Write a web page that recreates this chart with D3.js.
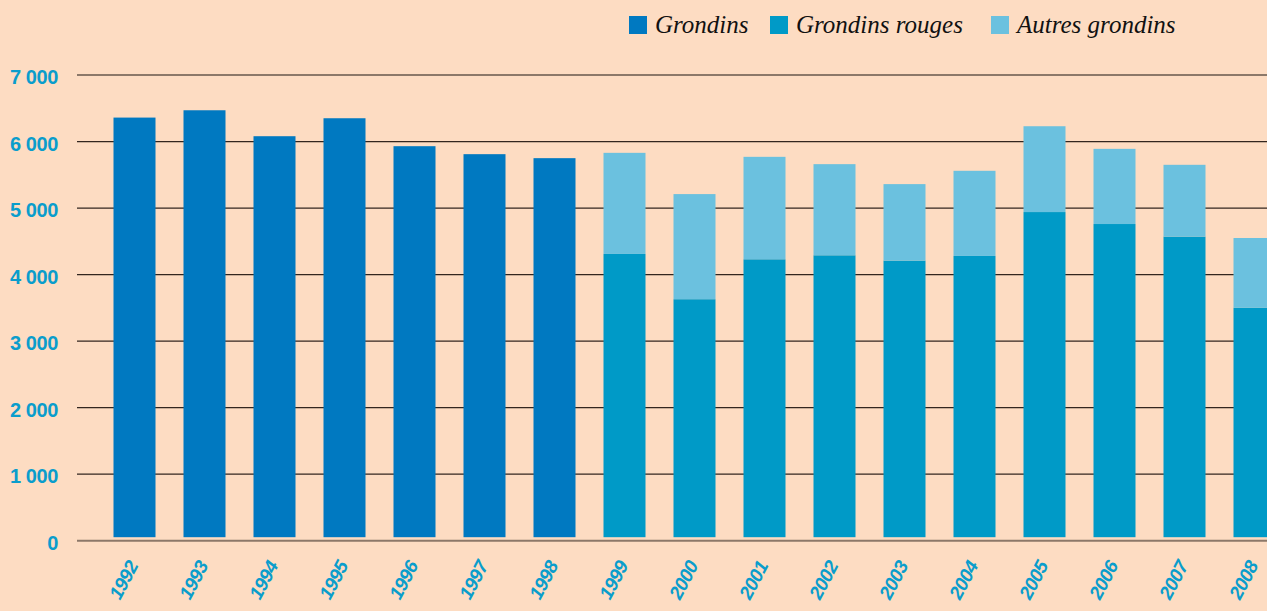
<!DOCTYPE html>
<html>
<head>
<meta charset="utf-8">
<script src="https://cdn.jsdelivr.net/npm/d3@7"></script>
<style>
  html, body { margin: 0; padding: 0; background: #fddcc2; }
  svg { display: block; }
</style>
</head>
<body>
<script>
var width = 1267, height = 611;

// data (tonnes)
var years = ["1992", "1993", "1994", "1995", "1996", "1997", "1998", "1999", "2000",
             "2001", "2002", "2003", "2004", "2005", "2006", "2007", "2008"];
// total "grondins" before the split of species (1992-1998)
var grondins = [6360, 6470, 6080, 6350, 5930, 5810, 5750, 0, 0, 0, 0, 0, 0, 0, 0, 0, 0];
var grondinsRouges = [0, 0, 0, 0, 0, 0, 0, 4310, 3630, 4230, 4290, 4210, 4280, 4940, 4760, 4570, 3500];
var autresGrondins = [0, 0, 0, 0, 0, 0, 0, 1520, 1580, 1540, 1370, 1150, 1280, 1290, 1130, 1080, 1050];
var yTicks = [0, 1000, 2000, 3000, 4000, 5000, 6000, 7000];
var seriesNames = ["Grondins", "Grondins rouges", "Autres grondins"];
var colors = ["#0079c1", "#009ac7", "#6bc1df"];

var rows = years.map(function (y, i) {
  return { year: y, g: grondins[i], r: grondinsRouges[i], a: autresGrondins[i] };
});
var stack = d3.stack().keys(["g", "r", "a"])(rows);

var x = d3.scaleBand()
  .domain(years)
  .range([92.5, 1296.5])
  .paddingInner(0.4)
  .paddingOuter(0.3);

var y = d3.scaleLinear()
  .domain([0, 7000])
  .range([540.7, 75]);

var baseGap = 3.5; // bars stop a little above the zero line

var svg = d3.select("body").append("svg")
  .attr("width", width)
  .attr("height", height);

svg.append("rect")
  .attr("width", width)
  .attr("height", height)
  .attr("fill", "#fddcc2");

// gridlines
svg.append("g")
  .selectAll("line")
  .data(yTicks)
  .join("line")
  .attr("x1", 77)
  .attr("x2", width)
  .attr("y1", d => y(d))
  .attr("y2", d => y(d))
  .attr("stroke", d => (d === 0 || d === 7000) ? "#8c7869" : "#33261f")
  .attr("stroke-width", d => (d === 0 || d === 7000) ? 2 : 1.3);

// y labels
svg.append("g")
  .selectAll("text")
  .data(yTicks)
  .join("text")
  .attr("x", 58)
  .attr("y", d => y(d) + 9)
  .attr("text-anchor", "end")
  .attr("font-family", "Liberation Sans, Arial, sans-serif")
  .attr("font-weight", "bold")
  .attr("font-size", 20)
  .attr("letter-spacing", -0.4)
  .attr("fill", "#0a9dcc")
  .text(d => d3.format(",")(d).replace(/,/g, " "));

// stacked bars
svg.append("g")
  .selectAll("g")
  .data(stack)
  .join("g")
  .attr("fill", (d, i) => colors[i])
  .selectAll("rect")
  .data(d => d.filter(p => p[1] - p[0] > 0))
  .join("rect")
  .attr("x", d => x(d.data.year))
  .attr("width", x.bandwidth())
  .attr("y", d => y(d[1]))
  .attr("height", d => Math.max(0, (d[0] === 0 ? y(0) - baseGap : y(d[0])) - y(d[1])));

// x labels
svg.append("g")
  .selectAll("text")
  .data(years)
  .join("text")
  .attr("transform", d => "translate(" + (x(d) + x.bandwidth() / 2 - 11) + ",580) rotate(-62)")
  .attr("text-anchor", "middle")
  .attr("dy", "0.35em")
  .attr("font-family", "Liberation Sans, Arial, sans-serif")
  .attr("font-weight", "bold")
  .attr("font-style", "italic")
  .attr("font-size", 19)
  .attr("letter-spacing", -0.6)
  .attr("fill", "#0a9dcc")
  .text(d => d);

// legend
var legendX = [629, 770, 991];
var legend = svg.append("g")
  .selectAll("g")
  .data(seriesNames)
  .join("g")
  .attr("transform", (d, i) => "translate(" + legendX[i] + ",16)");

legend.append("rect")
  .attr("width", 18)
  .attr("height", 18)
  .attr("fill", (d, i) => colors[i]);

legend.append("text")
  .attr("x", 26)
  .attr("y", 17)
  .attr("font-family", "Liberation Serif, Times New Roman, serif")
  .attr("font-style", "italic")
  .attr("font-size", 25)
  .attr("fill", "#111")
  .text(d => d);
</script>
</body>
</html>
